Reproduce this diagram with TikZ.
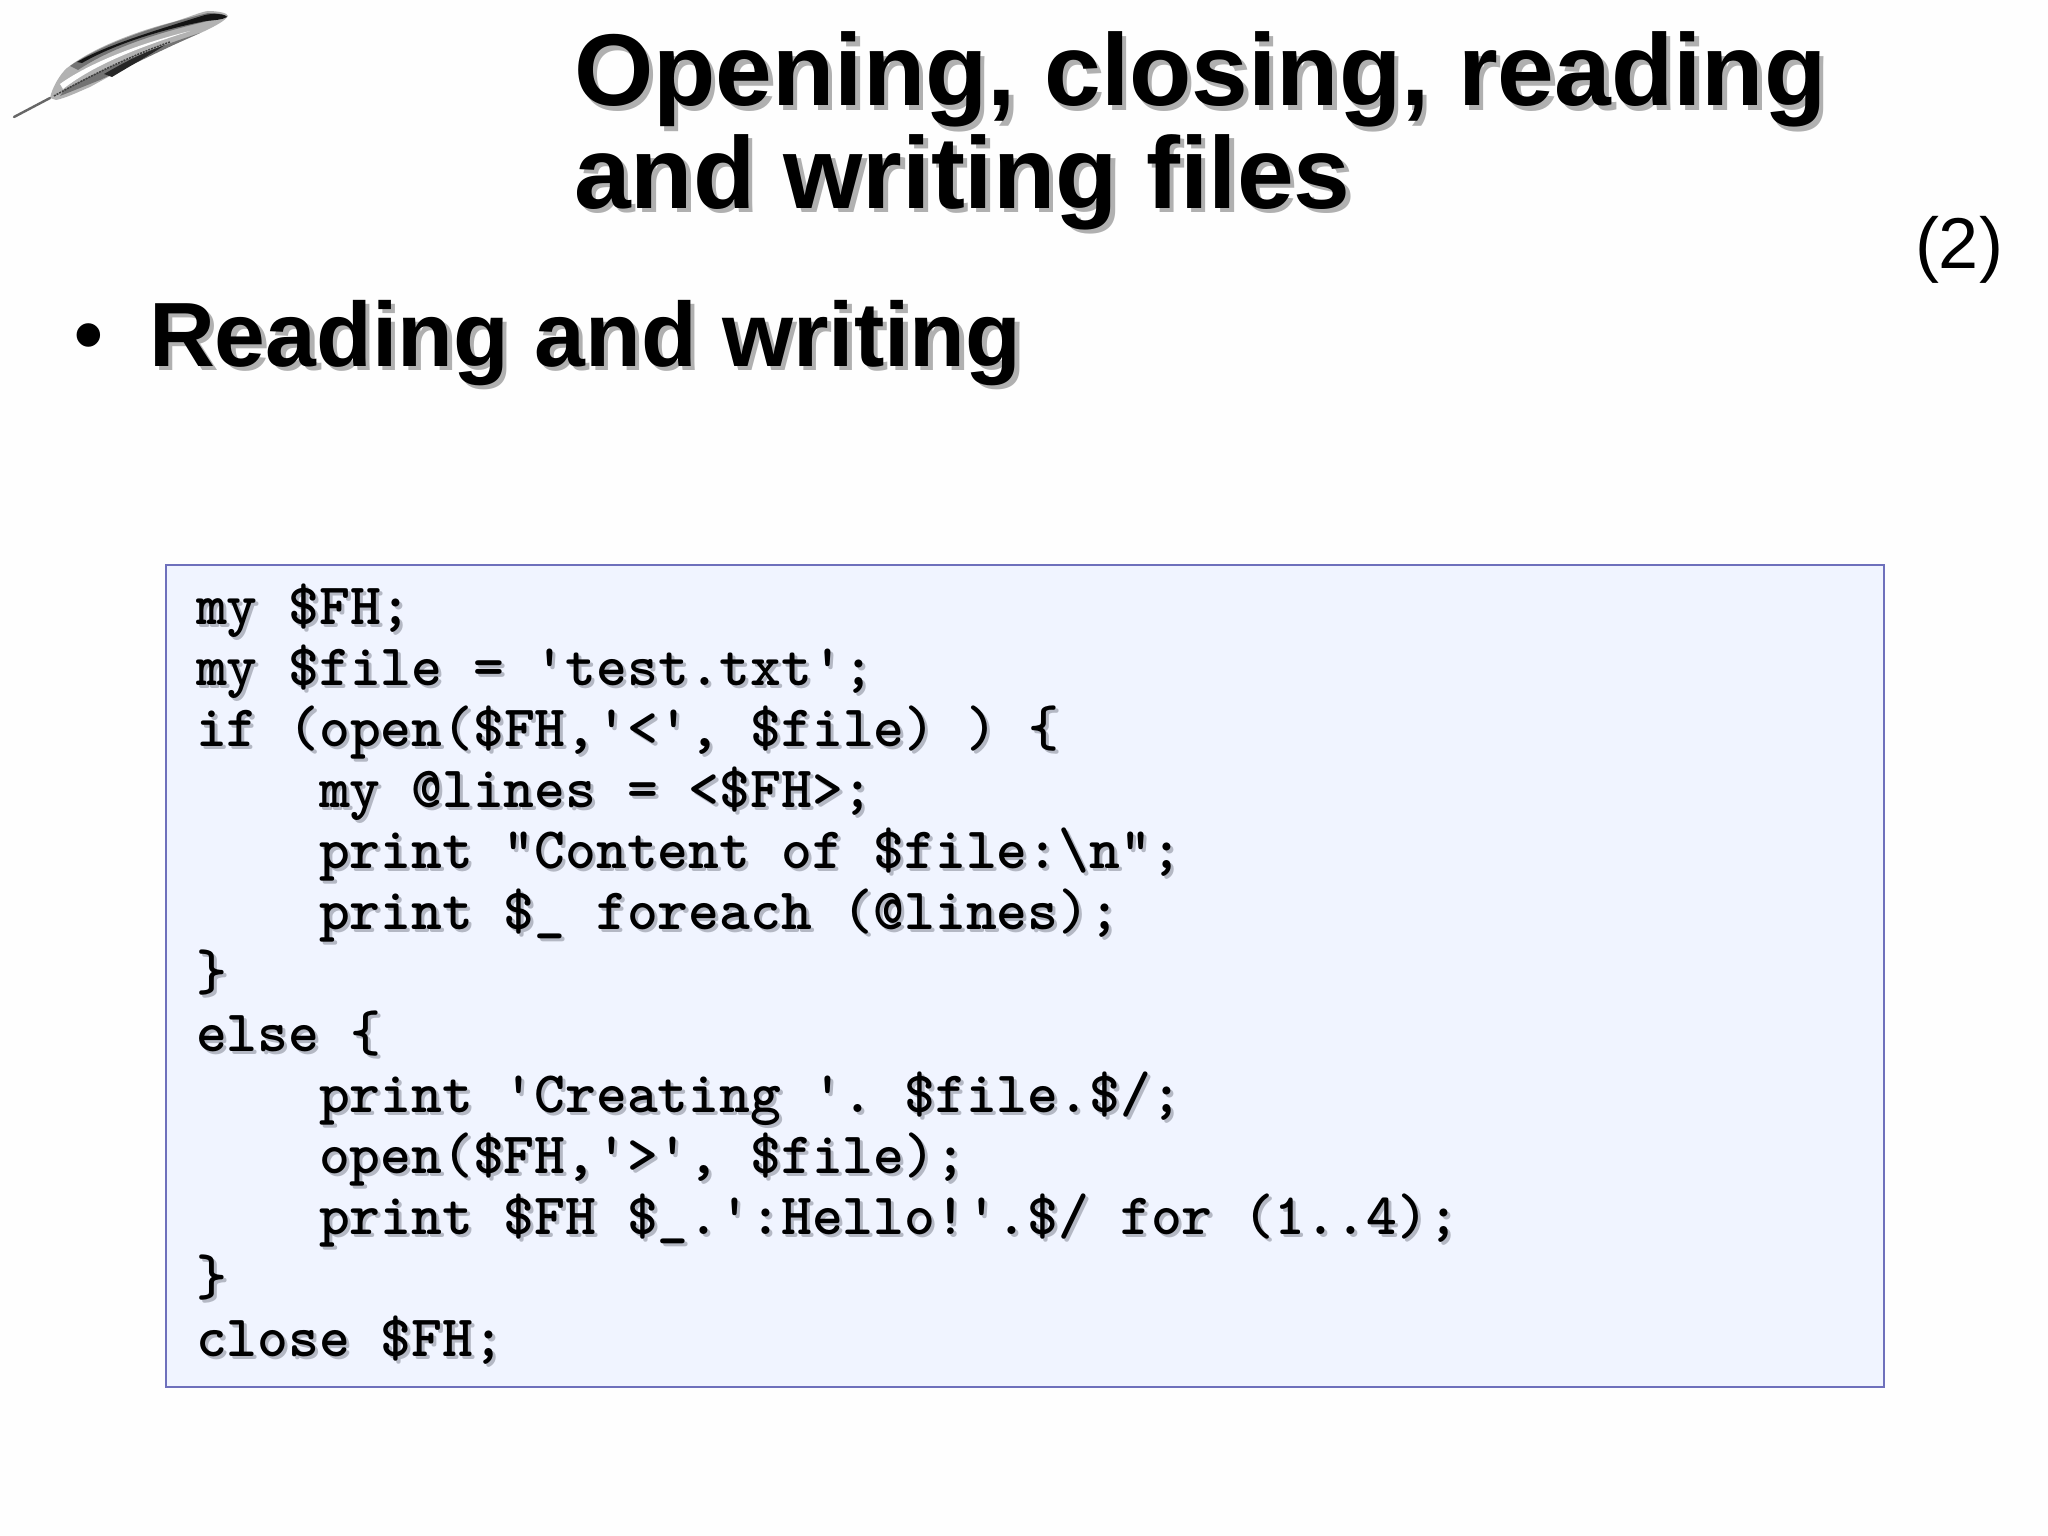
\documentclass[tikz,border=0pt]{standalone}
\usepackage{fontspec}
\setmainfont{Liberation Sans}
\definecolor{pagebg}{HTML}{FEFEFE}
\definecolor{boxfill}{HTML}{F0F4FF}
\definecolor{boxline}{HTML}{6E70BC}
\definecolor{titleshadow}{HTML}{B0B0B0}
\definecolor{codeshadow}{HTML}{B4B8C4}
\newcommand{\shadowtext}[3]{\makebox[0pt][l]{\hspace{#1}\raisebox{-#1}{\textcolor{#2}{#3}}}#3}
\newcommand{\codeline}[1]{\shadowtext{3pt}{codeshadow}{#1}}
\newcommand{\headtext}[1]{\shadowtext{4.5pt}{titleshadow}{#1}}
\tikzset{
  x=1pt,y=-1pt,
  titletext/.style={anchor=base west,inner sep=0pt,outer sep=0pt,font=\fontsize{102}{103}\selectfont\bfseries},
  subtext/.style={anchor=base west,inner sep=0pt,outer sep=0pt,font=\fontsize{91.3}{100}\selectfont\bfseries},
  bullettext/.style={anchor=base west,inner sep=0pt,outer sep=0pt,font=\fontsize{82}{90}\selectfont\bfseries},
  codetext/.style={anchor=base west,inner sep=0pt,outer sep=0pt,font=\fontsize{58.7}{61}\ttfamily\bfseries\addfontfeature{FakeBold=2.4}\frenchspacing},
  pagenum/.style={anchor=base west,inner sep=0pt,outer sep=0pt,font=\fontsize{72}{74}\selectfont},
  codebox/.style={draw=boxline,fill=boxfill,line width=1.5pt,inner sep=0pt,anchor=north west,minimum width=1718pt,minimum height=822pt},
}
\begin{document}
\begin{tikzpicture}
\useasboundingbox (0,0) rectangle (2048,1536);
\fill[pagebg] (0,0) rectangle (2048,1536);
% feather: soft outline
\fill[black!30] (50,98) .. controls (52,88) and (60,74) .. (67,68) .. controls (90,50) and (130,33) .. (173,22)
  .. controls (190,17) and (200,12) .. (208,11) .. controls (218,11) and (228,13) .. (228,16)
  .. controls (224,24) and (190,38) .. (160,50) .. controls (135,62) and (110,76) .. (90,87)
  .. controls (78,92) and (66,98) .. (56,100) -- cycle;
% feather: upper gray fringe and black ridge
\fill[black!55] (70,66) .. controls (100,46) and (140,30) .. (208,13) .. controls (216,13) and (226,14) .. (226,17)
  .. controls (180,27) and (120,42) .. (78,70) -- cycle;
\fill[black!92] (77,62) .. controls (105,46) and (150,32) .. (205,15) .. controls (213,13) and (226,14) .. (227,17)
  .. controls (222,20) and (215,20) .. (206,21) .. controls (160,30) and (115,44) .. (82,63) -- cycle;
% feather: pale stripe above the shaft
\fill[white] (60,84) .. controls (85,66) and (130,46) .. (190,31) .. controls (140,47) and (95,64) .. (63,89) -- cycle;
% feather: lower dark vane
\fill[black!55] (64,90) .. controls (90,76) and (130,56) .. (200,33) .. controls (170,46) and (130,66) .. (100,80)
  .. controls (85,86) and (70,92) .. (60,96) -- cycle;
\fill[black!85] (104,74) .. controls (125,62) and (140,54) .. (165,45) .. controls (150,55) and (130,66) .. (112,77) -- cycle;
% feather: shaft
\draw[black!75,line width=1.6pt,dash pattern=on 2pt off 1pt] (54,96) .. controls (90,76) and (130,56) .. (170,42);
\draw[black!60,line width=2.4pt,line cap=round] (14,117) -- (50,98);
% title
\node[titletext] (title1) at (574,106) {\headtext{Opening, closing, reading}};
\node[titletext] (title2) at (574,208) {\headtext{and writing files}};
\node[pagenum] (num) at (1915,268) {(2)};
\node[bullettext] (bullet) at (74,362) {•};
\node[subtext] (sub) at (149,366) {\headtext{Reading and writing}};
% code box
\node[codebox] (box) at (165,564) {};
\node[codetext] (l1) at (196,624) {\codeline{my \$FH;}};
\node[codetext] (l2) at (196,685) {\codeline{my \$file = 'test.txt';}};
\node[codetext] (l3) at (196,746.1) {\codeline{if (open(\$FH,'<', \$file) ) \{}};
\node[codetext] (l4) at (319,807.1) {\codeline{my @lines = <\$FH>;}};
\node[codetext] (l5) at (319,868.2) {\codeline{print "Content of \$file:\textbackslash n";}};
\node[codetext] (l6) at (319,929.2) {\codeline{print \$\_ foreach (@lines);}};
\node[codetext] (l7) at (196,990.2) {\codeline{\}}};
\node[codetext] (l8) at (196,1051.3) {\codeline{else \{}};
\node[codetext] (l9) at (319,1112.3) {\codeline{print 'Creating '. \$file.\$/;}};
\node[codetext] (l10) at (319,1173.4) {\codeline{open(\$FH,'>', \$file);}};
\node[codetext] (l11) at (319,1234.4) {\codeline{print \$FH \$\_.':Hello!'.\$/ for (1..4);}};
\node[codetext] (l12) at (196,1295.5) {\codeline{\}}};
\node[codetext] (l13) at (196,1356.5) {\codeline{close \$FH;}};
\end{tikzpicture}
\end{document}
